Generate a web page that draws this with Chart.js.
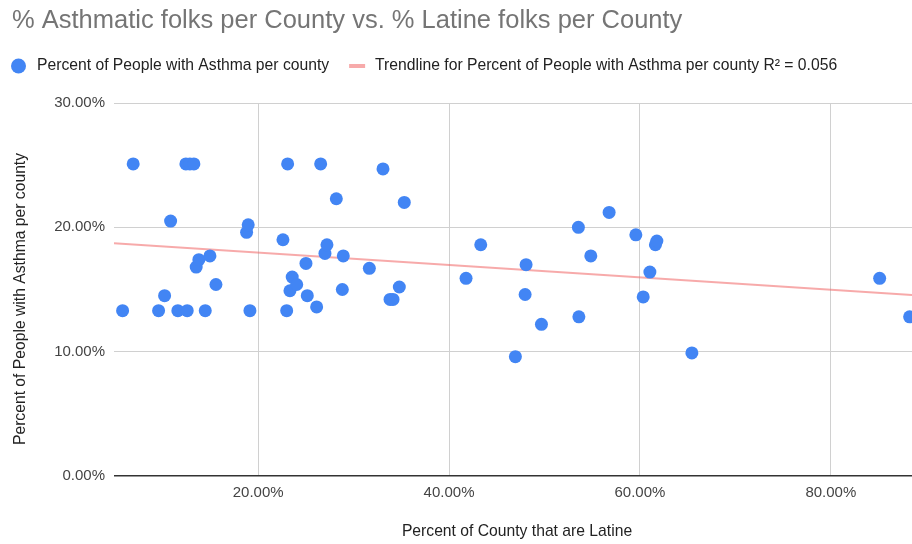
<!DOCTYPE html>
<html>
<head>
<meta charset="utf-8">
<script src="https://cdn.jsdelivr.net/npm/chart.js@4"></script>
<style>
  html, body { margin: 0; padding: 0; background: #fff; }
  #wrap { width: 912px; height: 544px; }
</style>
</head>
<body>
<div id="wrap"><canvas id="c" width="912" height="544"></canvas></div>
<script>
// Percent of each county's population that is Latine
const latinePct = [
  5.8, 6.91, 9.57, 10.2, 10.83, 11.59, 12.43, 12.85, 13.27, 12.57,
  13.51, 13.79, 14.46, 14.95, 15.58, 18.79, 18.96, 19.14, 22.6, 22.99,
  23.09, 23.33, 23.57, 24.04, 25.01, 25.15, 26.13, 26.55, 27.0, 27.21,
  28.19, 28.82, 28.92, 31.65, 33.08, 33.82, 34.13, 34.79, 35.31, 41.78,
  43.32, 46.95, 47.97, 48.07, 49.68, 53.55, 53.6, 54.85, 56.77, 59.57,
  60.34, 61.04, 61.62, 61.77, 65.44, 85.11, 88.25
];
// Percent of people with asthma in the same county
const asthmaPct = [
  13.3, 25.1, 13.3, 14.5, 20.5, 13.3, 25.1, 25.1, 25.1, 13.3,
  16.8, 17.4, 13.3, 17.7, 15.4, 19.6, 20.2, 13.3, 19.0, 13.3,
  25.1, 14.9, 16.0, 15.4, 17.1, 14.5, 13.6, 25.1, 17.9, 18.6,
  22.3, 15.0, 17.7, 16.7, 24.7, 14.2, 14.2, 15.2, 22.0, 15.9,
  18.6, 9.6, 14.6, 17.0, 12.2, 20.0, 12.8, 17.7, 21.2, 19.4,
  14.4, 16.4, 18.6, 18.9, 9.9, 15.9, 12.8
];
// Linear trendline end points (x in %, y in %)
const trendX = [4.9, 88.5];
const trendY = [18.73, 14.56];

const xTicks = [20, 40, 60, 80];
const yTicks = [0, 10, 20, 30];

const titleText = '% Asthmatic folks per County vs. % Latine folks per County';
const seriesName = 'Percent of People with Asthma per county';
const trendName = 'Trendline for Percent of People with Asthma per county R\u00b2 = 0.056';
const xTitle = 'Percent of County that are Latine';
const yTitle = 'Percent of People with Asthma per county';

const pointColor = '#4285f4';
const trendColor = 'rgba(240, 100, 100, 0.55)';
const FONT = '"Liberation Sans", Arial, sans-serif';

const points = latinePct.map((x, i) => ({ x: x, y: asthmaPct[i] }));
const trendPoints = trendX.map((x, i) => ({ x: x, y: trendY[i] }));

const pct = v => Number(v).toFixed(2) + '%';

// Title, legend and axis titles painted around the plot area
const headerPlugin = {
  id: 'header',
  afterDraw(chart) {
    const ctx = chart.ctx;
    ctx.save();
    ctx.textBaseline = 'middle';
    ctx.textAlign = 'left';
    ctx.fillStyle = '#757575';
    ctx.font = '25.5px ' + FONT;
    ctx.fillText(titleText, 12, 21);

    const ly = 66;
    const ds = chart.data.datasets;
    ctx.font = '15.7px ' + FONT;
    ctx.fillStyle = ds[0].backgroundColor;
    ctx.beginPath();
    ctx.arc(18.5, ly, 7.5, 0, Math.PI * 2);
    ctx.fill();
    ctx.fillStyle = '#222';
    ctx.fillText(ds[0].label, 37, ly);
    const x2 = 37 + ctx.measureText(ds[0].label).width + 20;
    ctx.strokeStyle = ds[1].borderColor;
    ctx.lineWidth = 4;
    ctx.beginPath();
    ctx.moveTo(x2, ly);
    ctx.lineTo(x2 + 16, ly);
    ctx.stroke();
    ctx.fillStyle = '#222';
    ctx.fillText(ds[1].label, x2 + 26, ly);

    // axis titles
    ctx.textAlign = 'center';
    ctx.fillStyle = '#222';
    ctx.fillText(xTitle, 517, 532);
    ctx.translate(21, 299);
    ctx.rotate(-Math.PI / 2);
    ctx.fillText(yTitle, 0, 0);
    ctx.restore();
  }
};

new Chart(document.getElementById('c'), {
  type: 'scatter',
  data: {
    datasets: [
      {
        label: seriesName,
        data: points,
        backgroundColor: pointColor,
        borderColor: pointColor,
        borderWidth: 0,
        pointRadius: 6.5,
        pointHoverRadius: 6.5,
        order: 0
      },
      {
        type: 'line',
        label: trendName,
        data: trendPoints,
        borderColor: trendColor,
        backgroundColor: trendColor,
        borderWidth: 2,
        pointRadius: 0,
        fill: false,
        order: 1
      }
    ]
  },
  options: {
    responsive: false,
    animation: false,
    events: [],
    layout: { autoPadding: false, padding: { top: 103, right: 0, bottom: 0, left: 0 } },
    plugins: {
      legend: { display: false },
      title: { display: false },
      tooltip: { enabled: false }
    },
    scales: {
      x: {
        type: 'linear',
        min: trendX[0],
        max: trendX[1],
        afterBuildTicks: axis => { axis.ticks = xTicks.map(v => ({ value: v })); },
        afterFit: axis => { axis.height = 68; },
        border: { display: false },
        grid: { color: '#d0d0d0', drawTicks: false, lineWidth: 1 },
        ticks: {
          padding: 8,
          color: '#444',
          font: { family: FONT, size: 15 },
          callback: v => pct(v)
        },
        title: { display: false }
      },
      y: {
        type: 'linear',
        min: 0,
        max: 30,
        afterBuildTicks: axis => { axis.ticks = yTicks.map(v => ({ value: v })); },
        afterFit: axis => { axis.width = 114; },
        border: { display: false },
        grid: {
          color: ctx => (ctx.tick && ctx.tick.value === 0 ? '#333' : '#d0d0d0'),
          lineWidth: ctx => (ctx.tick && ctx.tick.value === 0 ? 1.5 : 1),
          drawTicks: false
        },
        ticks: {
          padding: 9,
          color: '#444',
          font: { family: FONT, size: 15 },
          callback: v => pct(v)
        },
        title: { display: false }
      }
    }
  },
  plugins: [headerPlugin]
});
</script>
</body>
</html>
